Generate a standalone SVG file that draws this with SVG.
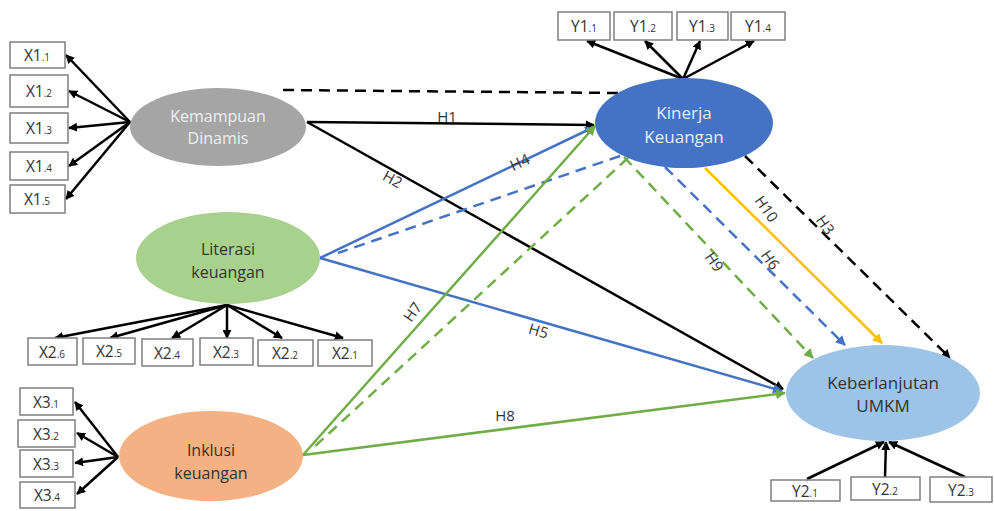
<svg xmlns="http://www.w3.org/2000/svg" width="994" height="511" viewBox="0 0 994 511">
<defs>
<marker id="ak" viewBox="0 0 10 10" refX="9" refY="5" markerWidth="9" markerHeight="9" markerUnits="userSpaceOnUse" orient="auto"><path d="M0,0 L10,5 L0,10 z" fill="#000"/></marker>
<marker id="ab" viewBox="0 0 10 10" refX="9" refY="5" markerWidth="10" markerHeight="10" markerUnits="userSpaceOnUse" orient="auto"><path d="M0,0 L10,5 L0,10 z" fill="#4472C4"/></marker>
<marker id="ag" viewBox="0 0 10 10" refX="9" refY="5" markerWidth="10" markerHeight="10" markerUnits="userSpaceOnUse" orient="auto"><path d="M0,0 L10,5 L0,10 z" fill="#70AD47"/></marker>
<marker id="ay" viewBox="0 0 10 10" refX="9" refY="5" markerWidth="10" markerHeight="10" markerUnits="userSpaceOnUse" orient="auto"><path d="M0,0 L10,5 L0,10 z" fill="#FFC000"/></marker>
</defs>
<style>
text{font-family:"Open Sans","Liberation Sans",sans-serif;}
.box{fill:#fff;stroke:#7F7F7F;stroke-width:1.5;}
.bt{font-size:15.5px;fill:#333;text-anchor:middle;}
.sub{font-size:10px;}
.ind{stroke:#000;stroke-width:2.5;fill:none;marker-end:url(#ak);}
.nt{font-size:16px;text-anchor:middle;}
.lbl{font-size:15px;fill:#333;text-anchor:middle;}
.k{stroke:#000;stroke-width:2.5;fill:none;}
.b{stroke:#4472C4;stroke-width:2.5;fill:none;}
.g{stroke:#70AD47;stroke-width:2.5;fill:none;}
.y{stroke:#FFC000;stroke-width:2.5;fill:none;}
.d{stroke-dasharray:11,7;}
</style>
<rect width="994" height="511" fill="#fff"/>

<g id="connectors">
<line class="ind" x1="130" y1="122" x2="66" y2="55"/>
<line class="ind" x1="130" y1="122" x2="69" y2="91"/>
<line class="ind" x1="130" y1="122" x2="69" y2="128"/>
<line class="ind" x1="130" y1="122" x2="69" y2="166"/>
<line class="ind" x1="130" y1="122" x2="66" y2="199"/>
<line class="ind" x1="683" y1="79" x2="587" y2="41"/>
<line class="ind" x1="683" y1="79" x2="645" y2="41"/>
<line class="ind" x1="683" y1="79" x2="700" y2="41"/>
<line class="ind" x1="683" y1="79" x2="754" y2="41"/>
<line class="ind" x1="227" y1="305" x2="55" y2="338"/>
<line class="ind" x1="227" y1="305" x2="110" y2="338"/>
<line class="ind" x1="227" y1="305" x2="172" y2="338"/>
<line class="ind" x1="227" y1="305" x2="227" y2="338"/>
<line class="ind" x1="227" y1="305" x2="282" y2="338"/>
<line class="ind" x1="227" y1="305" x2="343" y2="338"/>
<line class="ind" x1="118" y1="457" x2="75" y2="402"/>
<line class="ind" x1="118" y1="457" x2="77" y2="433"/>
<line class="ind" x1="118" y1="457" x2="75" y2="463"/>
<line class="ind" x1="118" y1="457" x2="77" y2="494"/>
<line class="ind" x1="807" y1="479" x2="884" y2="442"/>
<line class="ind" x1="885" y1="477" x2="886" y2="442"/>
<line class="ind" x1="965" y1="477" x2="889" y2="442"/>

<line class="k d" x1="283" y1="90" x2="618" y2="93"/>
<line class="k" x1="307" y1="122" x2="594" y2="125" marker-end="url(#ak)"/>
<line class="k" x1="307" y1="122" x2="783" y2="389" marker-end="url(#ak)"/>
<line class="b" x1="320" y1="258" x2="594" y2="127" marker-end="url(#ab)"/>
<line class="b d" x1="620" y1="156" x2="338" y2="253"/>
<line class="b" x1="320" y1="258" x2="782" y2="391" marker-end="url(#ab)"/>
<line class="g" x1="303" y1="455" x2="595" y2="126" marker-end="url(#ag)"/>
<line class="g d" x1="628" y1="158" x2="312" y2="449"/>
<line class="g" x1="303" y1="455" x2="785" y2="393" marker-end="url(#ag)"/>
<line class="g d" x1="624" y1="157" x2="813" y2="358" marker-end="url(#ag)"/>
<line class="b d" x1="665" y1="167" x2="845" y2="345" marker-end="url(#ab)"/>
<line class="y" x1="705" y1="168" x2="882" y2="343" marker-end="url(#ay)"/>
<line class="k d" x1="745" y1="156" x2="950" y2="358" marker-end="url(#ak)"/>

<text class="lbl" x="447" y="122">H1</text>
<text class="lbl" transform="translate(390,184) rotate(29)">H2</text>
<text class="lbl" transform="translate(522,167) rotate(-25)">H4</text>
<text class="lbl" transform="translate(417,315) rotate(-55)">H7</text>
<text class="lbl" transform="translate(537,336) rotate(17)">H5</text>
<text class="lbl" x="505" y="421">H8</text>
<text class="lbl" transform="translate(710,265) rotate(55)">H9</text>
<text class="lbl" transform="translate(766,263) rotate(55)">H6</text>
<text class="lbl" transform="translate(762,212) rotate(55)">H10</text>
<text class="lbl" transform="translate(821,228) rotate(55)">H3</text>
</g>

<g id="kemampuan">
<ellipse cx="218" cy="127" rx="88" ry="39" fill="#A5A5A5"/>
<text class="nt" x="218" y="122" fill="#EFEFEF">Kemampuan</text>
<text class="nt" x="218" y="144" fill="#EFEFEF">Dinamis</text>
</g>
<g id="kinerja">
<ellipse cx="684" cy="123" rx="89" ry="45" fill="#4472C4"/>
<text class="nt" x="684" y="119" fill="#E6EEF8" style="font-size:17px">Kinerja</text>
<text class="nt" x="684" y="143" fill="#E6EEF8" style="font-size:17px">Keuangan</text>
</g>
<g id="literasi">
<ellipse cx="228" cy="258" rx="92" ry="46" fill="#A9D18E"/>
<text class="nt" x="228" y="255" fill="#333">Literasi</text>
<text class="nt" x="228" y="278" fill="#333">keuangan</text>
</g>
<g id="inklusi">
<ellipse cx="211" cy="456" rx="92" ry="45" fill="#F4B183"/>
<text class="nt" x="211" y="456" fill="#333">Inklusi</text>
<text class="nt" x="211" y="479" fill="#333">keuangan</text>
</g>
<g id="keberlanjutan">
<ellipse cx="883" cy="393" rx="97" ry="48" fill="#9DC3E6"/>
<text class="nt" x="883" y="389" fill="#333" style="font-size:17px">Keberlanjutan</text>
<text class="nt" x="883" y="412" fill="#333" style="font-size:17px">UMKM</text>
</g>

<g id="x1-1"><rect class="box" x="10" y="42" width="55" height="26"/><text class="bt" x="37" y="61">X1<tspan class="sub">.1</tspan></text></g>
<g id="x1-2"><rect class="box" x="10" y="75" width="58" height="32"/><text class="bt" x="39" y="97">X1<tspan class="sub">.2</tspan></text></g>
<g id="x1-3"><rect class="box" x="10" y="113" width="58" height="30"/><text class="bt" x="39" y="134">X1<tspan class="sub">.3</tspan></text></g>
<g id="x1-4"><rect class="box" x="10" y="152" width="58" height="28"/><text class="bt" x="39" y="172">X1<tspan class="sub">.4</tspan></text></g>
<g id="x1-5"><rect class="box" x="10" y="185" width="55" height="28"/><text class="bt" x="37" y="205">X1<tspan class="sub">.5</tspan></text></g>

<g id="y1-1"><rect class="box" x="558" y="12" width="52" height="28"/><text class="bt" x="584" y="32">Y1<tspan class="sub">.1</tspan></text></g>
<g id="y1-2"><rect class="box" x="614" y="12" width="58" height="28"/><text class="bt" x="643" y="32">Y1<tspan class="sub">.2</tspan></text></g>
<g id="y1-3"><rect class="box" x="677" y="12" width="51" height="28"/><text class="bt" x="702" y="32">Y1<tspan class="sub">.3</tspan></text></g>
<g id="y1-4"><rect class="box" x="731" y="12" width="54" height="28"/><text class="bt" x="758" y="32">Y1<tspan class="sub">.4</tspan></text></g>

<g id="x2-6"><rect class="box" x="28" y="338" width="49" height="27"/><text class="bt" x="52" y="358">X2<tspan class="sub">.6</tspan></text></g>
<g id="x2-5"><rect class="box" x="83" y="338" width="52" height="26"/><text class="bt" x="109" y="357">X2<tspan class="sub">.5</tspan></text></g>
<g id="x2-4"><rect class="box" x="142" y="339" width="51" height="27"/><text class="bt" x="167" y="359">X2<tspan class="sub">.4</tspan></text></g>
<g id="x2-3"><rect class="box" x="200" y="338" width="53" height="27"/><text class="bt" x="226" y="358">X2<tspan class="sub">.3</tspan></text></g>
<g id="x2-2"><rect class="box" x="258" y="340" width="55" height="26"/><text class="bt" x="285" y="359">X2<tspan class="sub">.2</tspan></text></g>
<g id="x2-1"><rect class="box" x="318" y="340" width="54" height="26"/><text class="bt" x="345" y="359">X2<tspan class="sub">.1</tspan></text></g>

<g id="x3-1"><rect class="box" x="20" y="388" width="53" height="27"/><text class="bt" x="46" y="408">X3<tspan class="sub">.1</tspan></text></g>
<g id="x3-2"><rect class="box" x="18" y="420" width="57" height="27"/><text class="bt" x="46" y="440">X3<tspan class="sub">.2</tspan></text></g>
<g id="x3-3"><rect class="box" x="20" y="450" width="53" height="27"/><text class="bt" x="46" y="470">X3<tspan class="sub">.3</tspan></text></g>
<g id="x3-4"><rect class="box" x="20" y="482" width="55" height="26"/><text class="bt" x="47" y="501">X3<tspan class="sub">.4</tspan></text></g>

<g id="y2-1"><rect class="box" x="771" y="480" width="69" height="21"/><text class="bt" x="805" y="497">Y2<tspan class="sub">.1</tspan></text></g>
<g id="y2-2"><rect class="box" x="851" y="477" width="69" height="23"/><text class="bt" x="885" y="495">Y2<tspan class="sub">.2</tspan></text></g>
<g id="y2-3"><rect class="box" x="930" y="477" width="62" height="25"/><text class="bt" x="961" y="496">Y2<tspan class="sub">.3</tspan></text></g>
</svg>
